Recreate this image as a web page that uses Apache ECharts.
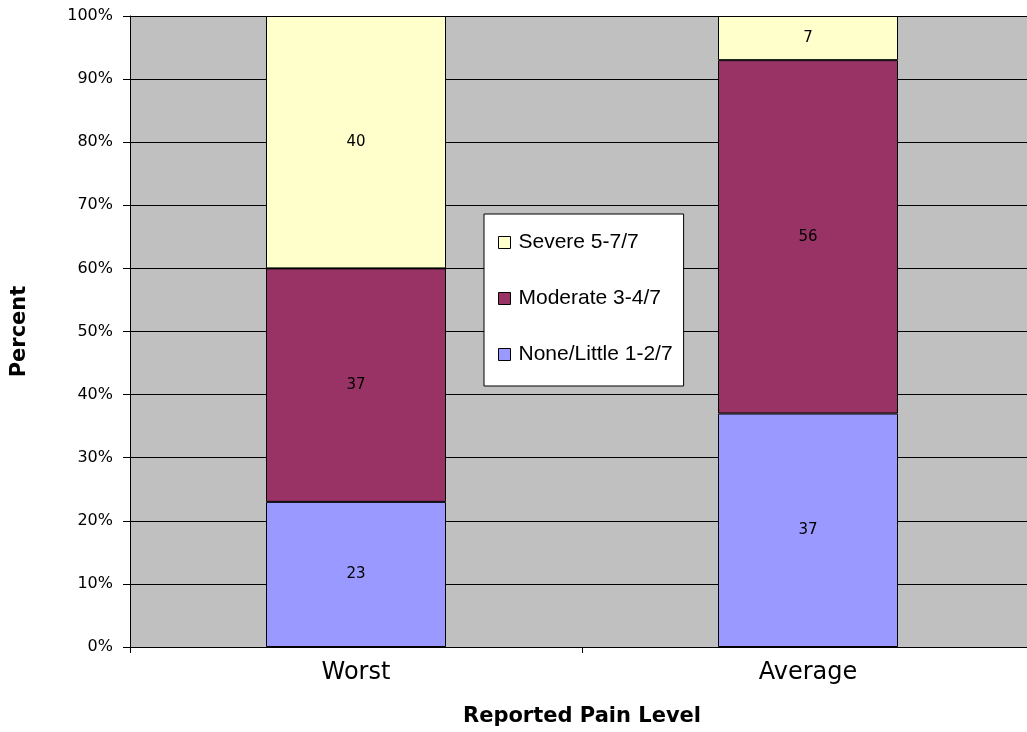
<!DOCTYPE html>
<html><head><meta charset="utf-8">
<script src="https://cdn.jsdelivr.net/npm/echarts@6/dist/echarts.min.js"></script>
<style>html,body{margin:0;padding:0;background:#fff;overflow:hidden;width:1027px;height:732px}#c{width:1034px;height:732px}</style>
</head><body><div id="c"></div>
<script>
const categories = ['Worst', 'Average'];
const seriesNames = ['None/Little 1-2/7', 'Moderate 3-4/7', 'Severe 5-7/7'];
const noneLittle = [23, 37];
const moderate = [37, 56];
const severe = [40, 7];
const yTicks = [0, 10, 20, 30, 40, 50, 60, 70, 80, 90, 100];
const colors = ['#9999FF', '#993366', '#FFFFCC'];
const values = [noneLittle, moderate, severe];

const chart = echarts.init(document.getElementById('c'));
const wide = 'DejaVu Sans, sans-serif';
const arial = 'Liberation Sans, Arial, sans-serif';
chart.setOption({
  animation: false,
  grid: { left: 130, right: 0, top: 16, bottom: 85, show: true, backgroundColor: '#C0C0C0', borderWidth: 0 },
  legend: {
    orient: 'vertical', left: 484, top: 214,
    data: [seriesNames[2], seriesNames[1], seriesNames[0]],
    icon: 'rect',
    backgroundColor: '#fff', borderColor: '#000', borderWidth: 1,
    padding: [18, 11, 21, 14], itemGap: 35, itemWidth: 12, itemHeight: 12,
    itemStyle: { borderColor: '#000', borderWidth: 1 },
    textStyle: { fontFamily: arial, fontSize: 21, color: '#000', padding: [0, 0, 0, 3] }
  },
  xAxis: {
    type: 'category', data: categories,
    name: 'Reported Pain Level', nameLocation: 'middle', nameGap: 59,
    nameTextStyle: { fontFamily: wide, fontSize: 21, fontWeight: 'bold', color: '#000' },
    axisLine: { lineStyle: { color: '#000', width: 1 } },
    axisTick: { show: true, length: 6, lineStyle: { color: '#000' } },
    axisLabel: { fontFamily: wide, fontSize: 24, color: '#000', margin: 14 }
  },
  yAxis: {
    type: 'value', min: 0, max: 100, interval: 10,
    name: 'Percent', nameLocation: 'middle', nameGap: 100, nameRotate: 90,
    nameTextStyle: { fontFamily: wide, fontSize: 21, fontWeight: 'bold', color: '#000' },
    axisLine: { show: true, lineStyle: { color: '#000', width: 1 } },
    axisTick: { show: true, length: 7, lineStyle: { color: '#000' } },
    axisLabel: { fontFamily: wide, fontSize: 16, color: '#000', margin: 17,
      formatter: v => yTicks.includes(v) ? v + '%' : '' },
    splitLine: { show: true, lineStyle: { color: '#000', width: 1 } }
  },
  series: seriesNames.map((n, i) => ({
    name: n, type: 'bar', stack: 'total', barWidth: 180,
    data: values[i],
    itemStyle: { color: colors[i], borderColor: '#000', borderWidth: 1 },
    label: { show: true, position: 'inside', fontFamily: wide, fontSize: 15, color: '#000' }
  }))
});
</script></body></html>
